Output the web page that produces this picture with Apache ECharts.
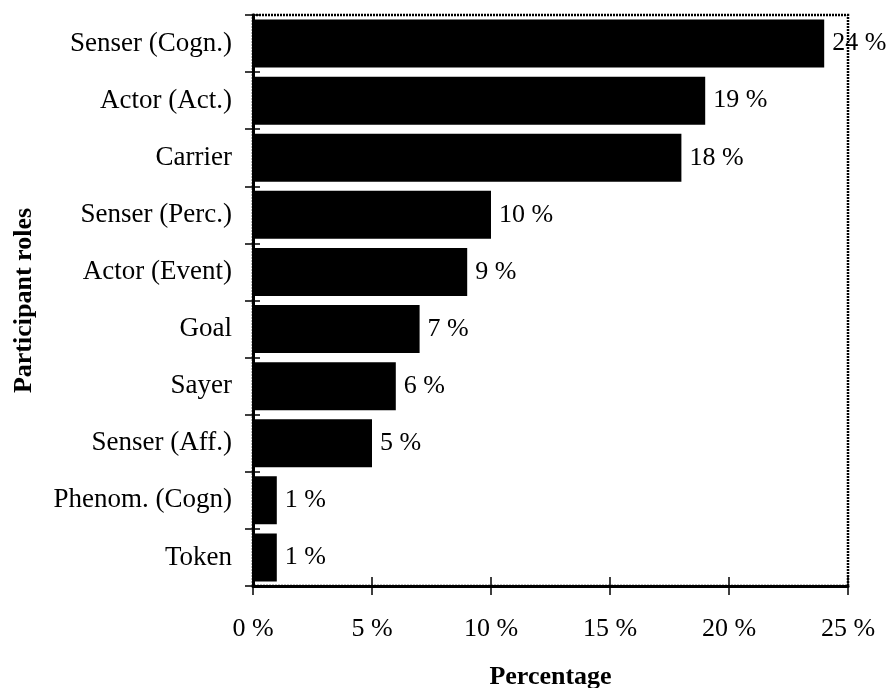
<!DOCTYPE html>
<html>
<head>
<meta charset="utf-8">
<script src="https://cdn.jsdelivr.net/npm/echarts@6/dist/echarts.min.js"></script>
<style>
  html, body { margin: 0; padding: 0; background: #fff; }
  #chart { width: 893px; height: 688px; }
</style>
</head>
<body>
<div id="chart"></div>
<script>
// Share of each participant role (percent)
const roles = [
  'Senser (Cogn.)', 'Actor (Act.)', 'Carrier', 'Senser (Perc.)', 'Actor (Event)',
  'Goal', 'Sayer', 'Senser (Aff.)', 'Phenom. (Cogn)', 'Token'
];
const shares = [24, 19, 18, 10, 9, 7, 6, 5, 1, 1];
const axisMin = 0;
const axisMax = 25;
const axisStep = 5;

const FONT = '"Liberation Serif", "Times New Roman", serif';
const INK = '#000';

const chart = echarts.init(document.getElementById('chart'), null, { renderer: 'canvas' });

const valueAxisBase = {
  type: 'value',
  min: axisMin,
  max: axisMax,
  interval: axisStep,
  position: 'bottom',
  splitLine: { show: false }
};

const categoryAxisBase = {
  type: 'category',
  data: roles,
  inverse: true,
  position: 'left',
  boundaryGap: true
};

chart.setOption({
  animation: false,
  backgroundColor: '#fff',
  grid: {
    left: 253,
    right: 45,
    top: 15,
    bottom: 102,
    containLabel: false,
    outerBoundsMode: 'none',
    show: true,
    borderColor: INK,
    borderWidth: 2.5,
    borderType: [2, 1],
    backgroundColor: 'transparent'
  },
  xAxis: [
    Object.assign({}, valueAxisBase, {
      name: 'Percentage',
      nameLocation: 'middle',
      nameGap: 78,
      nameTextStyle: { fontFamily: FONT, fontSize: 26, fontWeight: 'bold', color: INK },
      axisLine: { show: true, lineStyle: { color: INK, width: 3 } },
      axisTick: { show: true, inside: false, length: 9, lineStyle: { color: INK, width: 1.5 } },
      axisLabel: {
        fontFamily: FONT, fontSize: 26, color: INK, margin: 30,
        formatter: v => v + ' %'
      }
    }),
    Object.assign({}, valueAxisBase, {
      axisLine: { show: false },
      axisTick: { show: true, inside: true, length: 9, lineStyle: { color: INK, width: 1.5 } },
      axisLabel: { show: false }
    })
  ],
  yAxis: [
    Object.assign({}, categoryAxisBase, {
      name: 'Participant roles',
      nameLocation: 'middle',
      nameGap: 216,
      nameRotate: 90,
      nameTextStyle: { fontFamily: FONT, fontSize: 26, fontWeight: 'bold', color: INK },
      axisLine: { show: true, lineStyle: { color: INK, width: 3 } },
      axisTick: { show: true, inside: false, length: 8, lineStyle: { color: INK, width: 1.5 } },
      axisLabel: { fontFamily: FONT, fontSize: 27, color: INK, margin: 21 }
    }),
    Object.assign({}, categoryAxisBase, {
      axisLine: { show: false },
      axisTick: { show: true, inside: true, length: 7, lineStyle: { color: INK, width: 1.5 } },
      axisLabel: { show: false }
    })
  ],
  series: [{
    type: 'bar',
    data: shares,
    xAxisIndex: 0,
    yAxisIndex: 0,
    barCategoryGap: '16%',
    itemStyle: { color: INK },
    label: {
      show: true,
      position: 'right',
      distance: 8,
      fontFamily: FONT,
      fontSize: 26,
      color: INK,
      formatter: p => p.value + ' %'
    }
  }]
});
</script>
</body>
</html>
